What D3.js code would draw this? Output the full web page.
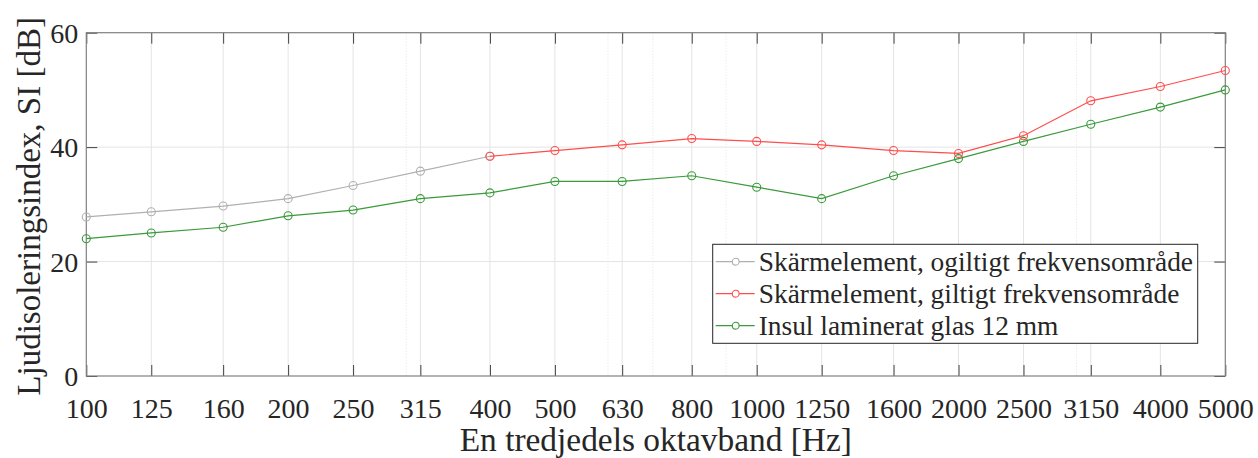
<!DOCTYPE html>
<html>
<head>
<meta charset="utf-8">
<script src="https://cdn.jsdelivr.net/npm/d3@7"></script>
</head>
<body style="margin:0; background:#fff">
<div id="viz"></div>
<script>
// one-third octave band centre frequencies
var bands = [100, 125, 160, 200, 250, 315, 400, 500, 630, 800, 1000, 1250, 1600, 2000, 2500, 3150, 4000, 5000];

// sound insulation index, dB
var invalidBands = [100, 125, 160, 200, 250, 315, 400];
var invalidSI   = [27.8, 28.7, 29.7, 31.0, 33.3, 35.8, 38.4];

var validBands = [400, 500, 630, 800, 1000, 1250, 1600, 2000, 2500, 3150, 4000, 5000];
var validSI    = [38.4, 39.4, 40.4, 41.5, 41.0, 40.4, 39.4, 38.9, 42.0, 48.1, 50.6, 53.4];

var glasSI = [24, 25, 26, 28, 29, 31, 32, 34, 34, 35, 33, 31, 35, 38, 41, 44, 47, 50];

var yTicks = [0, 20, 40, 60];

var seriesNames = [
  "Skärmelement, ogiltigt frekvensområde",
  "Skärmelement, giltigt frekvensområde",
  "Insul laminerat glas 12 mm"
];
var seriesColors = ["#b0b0b0", "#ff4d4d", "#3a9a3a"];

var series = [
  invalidBands.map(function(f, i){ return {f: f, v: invalidSI[i]}; }),
  validBands.map(function(f, i){ return {f: f, v: validSI[i]}; }),
  bands.map(function(f, i){ return {f: f, v: glasSI[i]}; })
];

var FONT = "'Liberation Serif'";

var W = 1258, H = 458;
var margin = {top: 32.7, right: 32.7, bottom: 82, left: 86.3},
    width = W - margin.left - margin.right,
    height = H - margin.top - margin.bottom;

var svg = d3.select("#viz").append("svg")
    .attr("width", W)
    .attr("height", H)
  .append("g")
    .attr("transform", "translate(" + margin.left + "," + margin.top + ")");

var x = d3.scaleLog()
  .domain([100, 5000])
  .range([0, width]);

var y = d3.scaleLinear()
  .domain([0, 60])
  .range([height, 0]);

// minor log grid (dotted)
var minor = [];
[100, 1000].forEach(function(dec){
  for (var k = 2; k <= 9; k++) {
    var f = dec * k;
    if (f < 5000 && bands.indexOf(f) < 0) minor.push(f);
  }
});

svg.append("g").selectAll("line")
  .data(minor)
  .enter().append("line")
    .attr("x1", function(d){ return x(d); })
    .attr("x2", function(d){ return x(d); })
    .attr("y1", 0)
    .attr("y2", height)
    .attr("stroke", "#e2e2e2")
    .attr("stroke-dasharray", "1,2");

// major grid
svg.append("g").selectAll("line")
  .data(bands.slice(1, -1))
  .enter().append("line")
    .attr("x1", function(d){ return x(d); })
    .attr("x2", function(d){ return x(d); })
    .attr("y1", 0)
    .attr("y2", height)
    .attr("stroke", "#e4e4e4");

svg.append("g").selectAll("line")
  .data(yTicks.slice(1, -1))
  .enter().append("line")
    .attr("x1", 0)
    .attr("x2", width)
    .attr("y1", function(d){ return y(d); })
    .attr("y2", function(d){ return y(d); })
    .attr("stroke", "#e4e4e4");

// axes
var tickLen = 11;

var xAxis = svg.append("g")
  .attr("transform", "translate(0," + height + ")")
  .call(d3.axisBottom(x).tickValues(bands).tickFormat(d3.format("d")).tickSizeInner(-tickLen).tickSizeOuter(0).tickPadding(22));

var xTop = svg.append("g")
  .call(d3.axisTop(x).tickValues(bands).tickFormat("").tickSizeInner(-tickLen).tickSizeOuter(0));

var yAxis = svg.append("g")
  .call(d3.axisLeft(y).tickValues(yTicks).tickSizeInner(-tickLen).tickSizeOuter(0).tickPadding(8));

var yRight = svg.append("g")
  .attr("transform", "translate(" + width + ",0)")
  .call(d3.axisRight(y).tickValues(yTicks).tickFormat("").tickSizeInner(-tickLen).tickSizeOuter(0));

[xAxis, xTop, yAxis, yRight].forEach(function(a){
  a.select(".domain").remove();
  a.selectAll(".tick line").attr("stroke", "#404040");
  a.selectAll(".tick text")
    .attr("fill", "#262626")
    .style("font-family", FONT)
    .style("font-size", "28px");
});
yAxis.selectAll("text").attr("dy", "0.34em");

svg.append("rect")
  .attr("width", width)
  .attr("height", height)
  .attr("fill", "none")
  .attr("stroke", "#808080")
  .attr("stroke-width", 1.2);

// lines
var line = d3.line()
  .x(function(d){ return x(d.f); })
  .y(function(d){ return y(d.v); });

var drawOrder = [0, 2, 1];
drawOrder.forEach(function(i){
  var g = svg.append("g");
  g.append("path")
    .datum(series[i])
    .attr("d", line)
    .attr("fill", "none")
    .attr("stroke", seriesColors[i])
    .attr("stroke-width", 1.2);
  g.selectAll("circle")
    .data(series[i])
    .enter().append("circle")
      .attr("cx", function(d){ return x(d.f); })
      .attr("cy", function(d){ return y(d.v); })
      .attr("r", 4)
      .attr("fill", "none")
      .attr("stroke", seriesColors[i])
      .attr("stroke-width", 1.1);
});

// axis titles
svg.append("text")
  .attr("x", width / 2)
  .attr("y", height + 75)
  .attr("text-anchor", "middle")
  .attr("fill", "#262626")
  .style("font-family", FONT)
  .style("font-size", "33.4px")
  .text("En tredjedels oktavband [Hz]");

svg.append("text")
  .attr("transform", "translate(" + (-46) + "," + (height / 2 + 2) + ") rotate(-90)")
  .attr("text-anchor", "middle")
  .attr("fill", "#262626")
  .style("font-family", FONT)
  .style("font-size", "33px")
  .text("Ljudisoleringsindex, SI [dB]");

// legend
var lg = svg.append("g")
  .attr("transform", "translate(" + (712.7 - margin.left) + "," + (244.3 - margin.top) + ")");

lg.append("rect")
  .attr("width", 485)
  .attr("height", 99)
  .attr("fill", "#fff")
  .attr("stroke", "#262626")
  .attr("stroke-width", 1);

var rows = lg.selectAll(".row")
  .data(seriesNames)
  .enter().append("g")
    .attr("transform", function(d, i){ return "translate(0," + (17.4 + i * 32) + ")"; });

rows.append("line")
  .attr("x1", 3)
  .attr("x2", 42)
  .attr("stroke", function(d, i){ return seriesColors[i]; })
  .attr("stroke-width", 1.2);

rows.append("circle")
  .attr("cx", 23)
  .attr("r", 3.4)
  .attr("fill", "#fff")
  .attr("stroke", function(d, i){ return seriesColors[i]; })
  .attr("stroke-width", 1.1);

rows.append("text")
  .attr("x", 46)
  .attr("dy", "0.34em")
  .attr("fill", "#262626")
  .style("font-family", FONT)
  .style("font-size", "27.4px")
  .text(function(d){ return d; });
</script>
</body>
</html>
